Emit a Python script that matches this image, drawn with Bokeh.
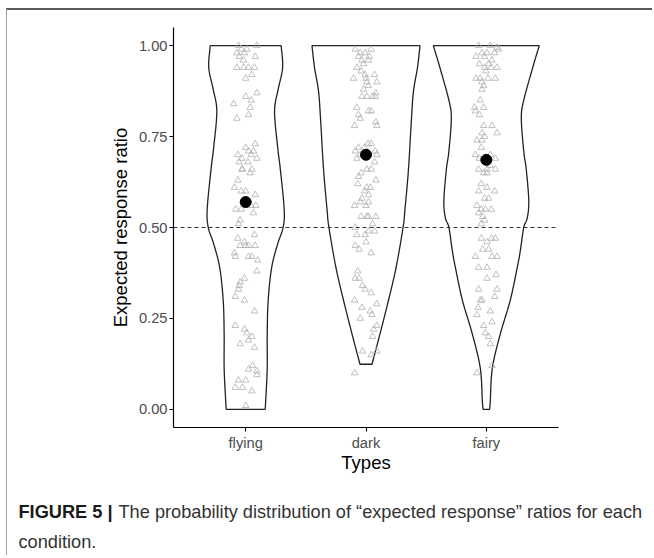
import numpy as np
from bokeh.plotting import figure
from bokeh.models import Range1d, FixedTicker, NumeralTickFormatter, CustomJSTickFormatter, Label
from bokeh.embed import file_html
from bokeh.resources import INLINE

# ---------------- data ----------------
categories = ["flying", "dark", "fairy"]
y_ticks = [0.0, 0.25, 0.5, 0.75, 1.0]
reference_line = 0.5
x_title = "Types"
y_title = "Expected response ratio"
caption_bold = "FIGURE 5 |"
caption_rest = "The probability distribution of \u201cexpected response\u201d ratios for each"
caption_line2 = "condition."

mean_ratio = [0.57, 0.70, 0.686]

# violin outlines: ratio level (top -> bottom) and half-width in category units
flying_levels = [1.00, 0.94, 0.88, 0.82, 0.72, 0.66, 0.55, 0.50, 0.455, 0.39, 0.30, 0.207, 0.113, 0.022, 0.00]
flying_halfw = [0.295, 0.307, 0.270, 0.240, 0.266, 0.288, 0.320, 0.311, 0.266, 0.216, 0.187, 0.179, 0.179, 0.166, 0.162]

dark_levels = [1.00, 0.94, 0.876, 0.80, 0.66, 0.55, 0.50, 0.39, 0.30, 0.207, 0.124]
dark_halfw = [0.449, 0.428, 0.395, 0.378, 0.353, 0.324, 0.308, 0.250, 0.187, 0.116, 0.050]

fairy_levels = [1.00, 0.94, 0.85, 0.80, 0.71, 0.66, 0.573, 0.526, 0.50, 0.435, 0.39, 0.30, 0.207, 0.113, 0.022, 0.00]
fairy_halfw = [0.440, 0.386, 0.311, 0.291, 0.311, 0.332, 0.353, 0.340, 0.311, 0.282, 0.257, 0.199, 0.116, 0.050, 0.033, 0.027]

# individual responses (ratio) and their horizontal jitter (category units)
flying_y = [1.00, 1.00, 0.99, 0.99, 0.98, 0.98, 0.97, 0.97, 0.96, 0.94, 0.94, 0.94, 0.94, 0.92, 0.91,
            0.87, 0.86, 0.84, 0.85, 0.83, 0.81, 0.80, 0.73, 0.72, 0.70, 0.71, 0.71, 0.70, 0.69, 0.69,
            0.68, 0.68, 0.66, 0.66, 0.65, 0.66, 0.63, 0.61, 0.60, 0.60, 0.59, 0.56, 0.56, 0.55, 0.55,
            0.54, 0.52, 0.51, 0.48, 0.47, 0.46, 0.45, 0.45, 0.45, 0.45, 0.43, 0.42, 0.42, 0.42, 0.41,
            0.38, 0.36, 0.35, 0.34, 0.33, 0.31, 0.30, 0.27, 0.23, 0.22, 0.21, 0.20, 0.18, 0.19, 0.17,
            0.12, 0.11, 0.105, 0.095, 0.08, 0.08, 0.06, 0.06, 0.05, 0.01]
flying_jitter = [-0.060, 0.093, -0.037, 0.010, -0.073, -0.010, -0.054, 0.079, -0.018, -0.073, -0.018, 0.024, 0.073, 0.051, 0.000,
                 0.093, 0.000, -0.100, 0.046, 0.037, 0.024, -0.073, 0.079, 0.000, -0.065, 0.024, 0.065, 0.046, -0.032, 0.093,
                 0.018, -0.054, -0.032, 0.051, 0.037, -0.026, -0.065, -0.093, -0.037, 0.000, 0.079, 0.084, 0.046, -0.082, -0.037,
                 0.065, -0.046, -0.060, 0.073, -0.065, -0.010, 0.024, 0.079, -0.046, 0.000, -0.093, -0.087, 0.024, 0.051, 0.100,
                 0.093, -0.010, -0.046, -0.054, -0.060, -0.087, -0.010, 0.073, -0.087, -0.010, 0.010, 0.051, -0.046, 0.024, 0.073,
                 0.057, 0.024, 0.093, 0.093, 0.000, -0.060, -0.087, -0.026, 0.051, 0.000]

dark_y = [0.99, 0.99, 0.98, 0.98, 0.97, 0.97, 0.96, 0.96, 0.94, 0.95, 0.93, 0.92, 0.91, 0.91, 0.92,
          0.90, 0.90, 0.89, 0.88, 0.86, 0.87, 0.86, 0.86, 0.86, 0.83, 0.82, 0.82, 0.81, 0.79, 0.80,
          0.78, 0.78, 0.73, 0.72, 0.73, 0.72, 0.71, 0.71, 0.70, 0.70, 0.69, 0.68, 0.66, 0.66, 0.65,
          0.64, 0.63, 0.62, 0.61, 0.61, 0.60, 0.59, 0.58, 0.56, 0.57, 0.56, 0.57, 0.53, 0.53, 0.53,
          0.53, 0.51, 0.50, 0.49, 0.48, 0.48, 0.49, 0.45, 0.44, 0.46, 0.43, 0.38, 0.36, 0.36, 0.34,
          0.33, 0.32, 0.30, 0.28, 0.29, 0.27, 0.26, 0.25, 0.23, 0.22, 0.20, 0.16, 0.16, 0.15, 0.10]
dark_jitter = [-0.090, 0.043, -0.048, -0.007, 0.027, -0.062, -0.034, 0.021, -0.076, -0.020, -0.040, -0.007, -0.104, 0.000, 0.071,
               0.007, 0.090, 0.021, -0.020, -0.034, 0.082, 0.007, 0.054, 0.076, -0.076, 0.021, 0.043, -0.062, 0.082, -0.048,
               -0.095, 0.090, 0.016, -0.062, 0.043, -0.012, -0.090, 0.076, -0.048, 0.090, -0.076, 0.071, 0.007, 0.043, -0.040,
               -0.062, 0.082, -0.068, 0.007, 0.035, -0.012, 0.021, -0.034, -0.095, -0.048, 0.000, 0.021, -0.040, 0.007, 0.021,
               0.082, 0.054, -0.090, 0.021, -0.076, -0.007, 0.071, -0.090, -0.057, 0.000, 0.043, -0.068, -0.090, -0.057, -0.029,
               -0.007, 0.043, -0.095, -0.034, 0.090, 0.035, 0.049, -0.048, 0.090, 0.063, 0.054, -0.029, 0.090, 0.043, -0.095]

fairy_y = [1.00, 0.995, 1.00, 0.99, 0.98, 0.98, 0.98, 0.97, 0.97, 0.96, 0.95, 0.95, 0.94, 0.94, 0.94,
           0.93, 0.91, 0.91, 0.91, 0.91, 0.90, 0.89, 0.88, 0.85, 0.83, 0.83, 0.82, 0.81, 0.78, 0.78,
           0.76, 0.76, 0.74, 0.74, 0.75, 0.72, 0.70, 0.69, 0.70, 0.69, 0.66, 0.66, 0.67, 0.66, 0.65,
           0.65, 0.62, 0.60, 0.61, 0.60, 0.58, 0.58, 0.56, 0.55, 0.55, 0.55, 0.54, 0.53, 0.52, 0.51,
           0.47, 0.47, 0.47, 0.46, 0.44, 0.44, 0.42, 0.42, 0.42, 0.39, 0.39, 0.37, 0.36, 0.33, 0.33,
           0.30, 0.30, 0.31, 0.28, 0.27, 0.26, 0.23, 0.24, 0.21, 0.20, 0.18, 0.12, 0.10]
fairy_jitter = [-0.064, 0.089, 0.033, 0.102, -0.036, 0.006, 0.069, -0.086, -0.014, 0.047, -0.058, 0.019, 0.089, 0.042, -0.014,
                -0.003, -0.086, -0.050, 0.014, 0.075, -0.036, -0.022, -0.036, -0.050, -0.097, -0.022, -0.091, -0.058, -0.022, 0.047,
                -0.036, 0.089, -0.078, -0.036, -0.014, -0.042, -0.091, -0.058, 0.033, 0.075, -0.064, 0.006, 0.033, 0.075, -0.022,
                0.006, -0.042, -0.064, 0.006, 0.069, -0.014, 0.019, -0.078, -0.042, -0.008, 0.042, -0.064, -0.030, -0.014, -0.042,
                -0.042, 0.042, 0.075, 0.006, -0.030, 0.019, -0.091, 0.047, 0.089, -0.064, 0.006, 0.080, 0.006, -0.064, 0.089,
                -0.050, -0.036, 0.069, -0.069, 0.033, -0.078, -0.022, 0.047, -0.008, 0.019, 0.033, 0.047, -0.078]

violin_levels = [flying_levels, dark_levels, fairy_levels]
violin_halfw = [flying_halfw, dark_halfw, fairy_halfw]
points_y = [flying_y, dark_y, fairy_y]
points_jitter = [flying_jitter, dark_jitter, fairy_jitter]

# ---------------- layout ----------------
FONT = "Liberation Sans"
W, H = 646, 547                 # canvas
FL, FT, FW, FH = 166, 17, 385, 400   # panel box inside the canvas (pixels)
PX0, PX1 = -0.1, len(categories) + 0.1   # panel extent (category units)
PY0, PY1 = -0.05, 1.05                   # panel extent (ratio)
SX = FW / (PX1 - PX0)
SY = FH / (PY1 - PY0)
X_LO = PX0 - FL / SX
X_HI = X_LO + W / SX
Y_HI = PY1 + FT / SY
Y_LO = Y_HI - H / SY


def at(cx, cy):
    """canvas pixel -> data coordinates (used to place caption text)"""
    return X_LO + cx / SX, Y_HI - cy / SY


def smooth(levels, halfw, n=12):
    """Catmull-Rom curve through the outline points (drawing only)."""
    P = np.column_stack([levels, halfw]).astype(float)
    P = np.vstack([2 * P[0] - P[1], P, 2 * P[-1] - P[-2]])
    out = []
    for i in range(1, len(P) - 2):
        p0, p1, p2, p3 = P[i - 1], P[i], P[i + 1], P[i + 2]
        for t in np.linspace(0, 1, n, endpoint=False):
            out.append(0.5 * (2 * p1 + (-p0 + p2) * t + (2 * p0 - 5 * p1 + 4 * p2 - p3) * t * t
                              + (-p0 + 3 * p1 - 3 * p2 + p3) * t ** 3))
    out.append(P[-2])
    arr = np.array(out)
    return arr[:, 0], arr[:, 1]


p = figure(width=W, height=H, x_range=Range1d(X_LO, X_HI), y_range=Range1d(Y_LO, Y_HI),
           output_backend="svg", toolbar_location=None, min_border=0)
p.styles = {"margin-left": "6px", "margin-top": "8px",
            "border-top": "2px solid #5a5a5a", "border-left": "1px solid #a0a0a0"}

p.background_fill_color = "white"
p.border_fill_color = "white"
p.outline_line_color = None
p.xgrid.visible = False
p.ygrid.visible = False

# violins
for i, cat in enumerate(categories):
    c = i + 0.5
    lv, hw = smooth(violin_levels[i], violin_halfw[i])
    xs = np.concatenate([c + hw, (c - hw)[::-1]])
    ys = np.concatenate([lv, lv[::-1]])
    p.patch(xs, ys, fill_color=None, line_color="#222222", line_width=1.3)

# jittered responses
for i, cat in enumerate(categories):
    xs = [i + 0.5 + j for j in points_jitter[i]]
    p.scatter(xs, points_y[i], marker="triangle", size=6.5, fill_color=None,
              line_color="#b0b0b0", line_width=0.8)

# means
p.scatter([i + 0.5 for i in range(len(categories))], mean_ratio, marker="circle",
          size=11, fill_color="black", line_color="black")

# reference line across the panel
p.segment(x0=[PX0], y0=[reference_line], x1=[PX1], y1=[reference_line],
          line_color="#333333", line_width=1.1, line_dash="4 3")

# axes (fixed at the panel edges, so the canvas can also hold the caption)
xax = p.xaxis[0]
yax = p.yaxis[0]
xax.fixed_location = PY0
xax.bounds = (PX0, PX1)
xax.ticker = FixedTicker(ticks=[i + 0.5 for i in range(len(categories))])
xax.formatter = CustomJSTickFormatter(args=dict(labels=categories),
                                      code="const k = Math.round(tick - 0.5); return labels[k] ?? '';")
yax.fixed_location = PX0
yax.bounds = (PY0, PY1)
yax.ticker = FixedTicker(ticks=y_ticks)
yax.formatter = NumeralTickFormatter(format="0.00")

for ax in (xax, yax):
    ax.axis_line_color = "black"
    ax.axis_line_width = 1.2
    ax.major_tick_line_color = "black"
    ax.major_tick_line_width = 1.1
    ax.major_tick_out = 4
    ax.major_tick_in = 0
    ax.minor_tick_line_color = None
    ax.major_label_text_font = FONT
    ax.major_label_text_font_size = "14.7px"
    ax.major_label_text_color = "#4d4d4d"
    ax.axis_label_text_font = FONT
    ax.axis_label_text_font_size = "18.5px"
    ax.axis_label_text_font_style = "normal"
    ax.axis_label_text_color = "black"

xax.axis_label = x_title
xax.major_label_standoff = 3
xax.axis_label_standoff = -2
yax.axis_label = y_title
yax.major_label_standoff = 2
yax.axis_label_standoff = 5

# caption
CAP = "18.2px"
bx, by = at(11, 501)
p.add_layout(Label(x=bx, y=by, text=caption_bold, text_font=FONT, text_font_size=CAP,
                   text_font_style="bold", text_color="#1a1a1a", text_baseline="middle"))
rx, ry = at(111, 501)
p.add_layout(Label(x=rx, y=ry, text=caption_rest, text_font=FONT, text_font_size=CAP,
                   text_color="#333333", text_baseline="middle"))
lx, ly = at(11, 531)
p.add_layout(Label(x=lx, y=ly, text=caption_line2, text_font=FONT, text_font_size=CAP,
                   text_color="#333333", text_baseline="middle"))

open("out.html", "w").write(file_html(p, INLINE))
